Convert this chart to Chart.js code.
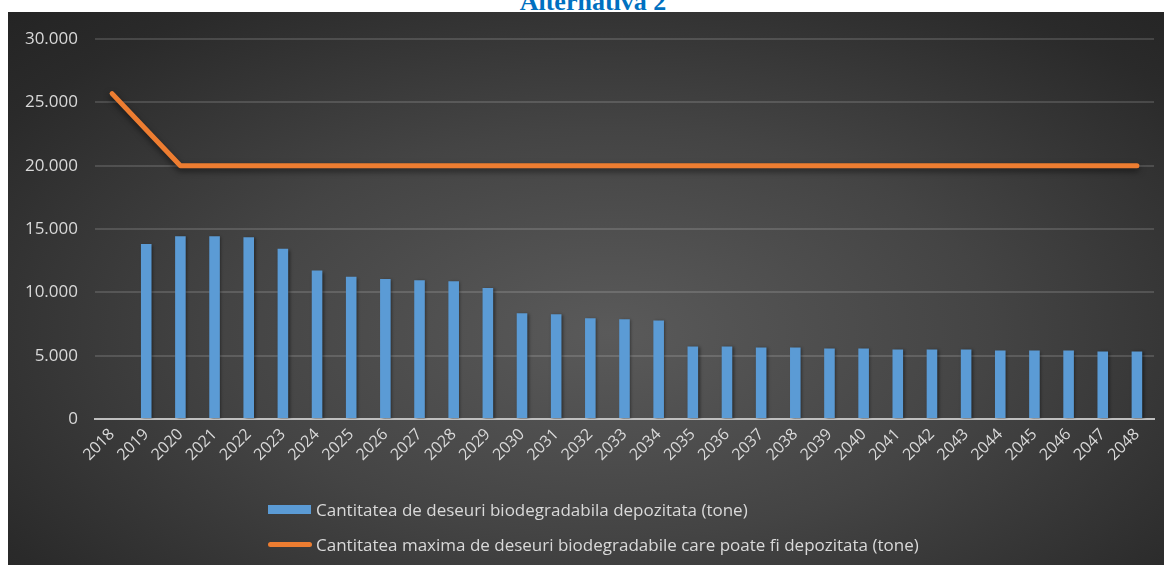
<!DOCTYPE html>
<html>
<head>
<meta charset="utf-8">
<script src="https://cdn.jsdelivr.net/npm/chart.js@4"></script>
<style>
  html, body { margin: 0; padding: 0; background: #fff; width: 1164px; height: 565px; overflow: hidden; }
  #title {
    position: absolute; left: 0; width: 1186px; top: -13px; line-height: 26px;
    text-align: center; font: bold 26px "Liberation Serif", serif; color: #0070C0;
  }
  #panel {
    position: absolute; left: 8px; top: 12px; width: 1156px; height: 553px;
    background: radial-gradient(ellipse farthest-corner at 52% 58%, #5a5a5a 0%, #444 45%, #2a2a2a 85%, #242424 100%);
  }
  #chart-legend {
    position: absolute; left: 268px; top: 492px; font: 17px "Open Sans", sans-serif; color: #d9d9d9;
  }
  .item { display: flex; align-items: center; height: 35px; }
</style>
</head>
<body>
<div id="title">Alternativa 2</div>
<div id="panel">
  <canvas id="myChart" width="1156" height="553"></canvas>
</div>
<div id="chart-legend"></div>
<script>
var years = ['2018','2019','2020','2021','2022','2023','2024','2025','2026','2027','2028','2029','2030',
  '2031','2032','2033','2034','2035','2036','2037','2038','2039','2040','2041','2042','2043','2044',
  '2045','2046','2047','2048'];
var depozitata = [null, 13830, 14430, 14430, 14350, 13440, 11720, 11230, 11050, 10960, 10880, 10340, 8360,
  8280, 7950, 7870, 7790, 5730, 5730, 5650, 5650, 5570, 5570, 5490, 5490, 5490, 5410,
  5410, 5410, 5340, 5340];
var maxima = [25700, 22850, 20000, 20000, 20000, 20000, 20000, 20000, 20000, 20000, 20000, 20000, 20000,
  20000, 20000, 20000, 20000, 20000, 20000, 20000, 20000, 20000, 20000, 20000, 20000, 20000, 20000,
  20000, 20000, 20000, 20000];
var yTicks = [0, 5000, 10000, 15000, 20000, 25000, 30000];
var labels = ['Cantitatea de deseuri biodegradabila depozitata (tone)',
  'Cantitatea maxima de deseuri biodegradabile care poate fi depozitata (tone)'];

Chart.defaults.font.family = '"Open Sans", sans-serif';
Chart.defaults.color = '#d9d9d9';

function fmt(v) {
  return String(v).replace(/\B(?=(\d{3})+(?!\d))/g, '.');
}

// soft shadow under the marks, like the office chart
var shadowPlugin = {
  id: 'shadow',
  beforeDatasetDraw: function(chart, args) {
    var ctx = chart.ctx;
    ctx.save();
    if (args.meta.type === 'line') {
      ctx.shadowColor = 'rgba(0,0,0,0.55)';
      ctx.shadowBlur = 6;
      ctx.shadowOffsetY = 3;
    } else {
      ctx.shadowColor = 'rgba(0,0,0,0.45)';
      ctx.shadowBlur = 3;
      ctx.shadowOffsetX = 1.5;
      ctx.shadowOffsetY = 1;
    }
  },
  afterDatasetDraw: function(chart) {
    chart.ctx.restore();
  }
};

var ctx = document.getElementById('myChart').getContext('2d');

var myChart = new Chart(ctx, {
  type: 'bar',
  data: {
    labels: years,
    datasets: [{
      type: 'line',
      label: labels[1],
      data: maxima,
      borderColor: '#ed7d31',
      borderWidth: 5,
      borderCapStyle: 'round',
      borderJoinStyle: 'round',
      pointRadius: 0,
      tension: 0,
      order: 0
    }, {
      type: 'bar',
      label: labels[0],
      data: depozitata,
      backgroundColor: '#5b9bd5',
      barPercentage: 0.31,
      categoryPercentage: 1,
      order: 1
    }]
  },
  options: {
    responsive: false,
    animation: false,
    layout: { padding: { top: 14, right: 10, bottom: 100, left: 0 } },
    plugins: {
      legend: { display: false },
      tooltip: { enabled: false }
    },
    scales: {
      x: {
        grid: { display: false, drawTicks: false },
        border: { color: '#bfbfbf', width: 2 },
        ticks: { font: { size: 16 }, color: '#d9d9d9', minRotation: 45, maxRotation: 45, padding: 6, autoSkip: false },
        afterFit: function(scale) { scale.height = 46; }
      },
      y: {
        min: 0, max: 30000,
        afterBuildTicks: function(scale) { scale.ticks = yTicks.map(function(v) { return { value: v }; }); },
        grid: { color: 'rgba(255,255,255,0.14)', lineWidth: 2, drawTicks: false },
        border: { display: false },
        ticks: { font: { size: 17 }, color: '#d9d9d9', padding: 17, callback: function(v) { return fmt(v); } },
        afterFit: function(scale) { scale.width = 87; }
      }
    }
  },
  plugins: [shadowPlugin]
});

var legendDiv = document.getElementById('chart-legend');
[
  '<span style="display:inline-block;width:43px;height:9px;background:#5b9bd5;margin-right:5px"></span>',
  '<span style="display:inline-block;width:44px;height:5px;border-radius:3px;background:#ed7d31;margin-right:4px"></span>'
].forEach(function(marker, i) {
  var item = document.createElement('div');
  item.className = 'item';
  item.innerHTML = marker + labels[i];
  legendDiv.appendChild(item);
});
</script>
</body>
</html>
